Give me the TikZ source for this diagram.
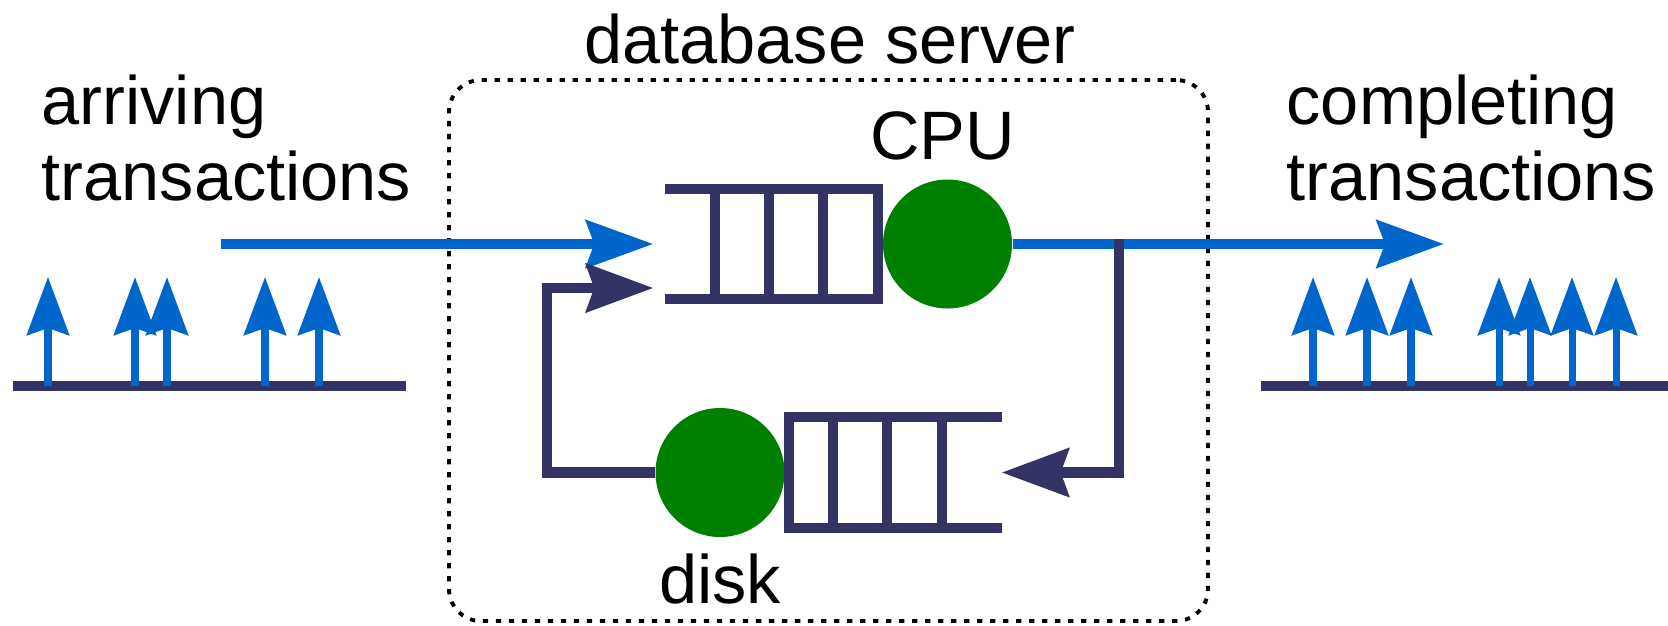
\documentclass[tikz,border=0pt]{standalone}
\usepackage{fontspec}
\setmainfont{Liberation Sans}
\usepackage{tikz}
\usetikzlibrary{arrows.meta}

\definecolor{jobBlue}{HTML}{0066CC}
\definecolor{lineNavy}{HTML}{333366}
\definecolor{serverGreen}{HTML}{008000}

\tikzset{
  station/.style={circle, fill=serverGreen, minimum size=1.29cm, inner sep=0},
  queueBox/.style={rectangle, minimum width=2.11cm, minimum height=1.09cm, inner sep=0},
  queueLine/.style={line width=2.9pt, lineNavy},
  serverBox/.style={draw, rounded corners=0.32cm, line width=1.1pt, dash pattern=on 1.5pt off 2.2pt, minimum width=7.59cm, minimum height=5.41cm, inner sep=0},
  jobFlow/.style={line width=3.1pt, jobBlue, -{Stealth[length=0.67cm, width=0.47cm, inset=0.08cm]}},
  loopFlow/.style={line width=2.9pt, lineNavy, -{Stealth[length=0.67cm, width=0.48cm, inset=0.08cm]}},
  timeAxis/.style={line width=3.1pt, lineNavy},
  jobTick/.style={line width=2pt, jobBlue, -{Stealth[length=0.58cm, width=0.42cm, inset=0.07cm]}}
}

\begin{document}
\begin{tikzpicture}[font=\fontsize{19.5}{21.5}\selectfont]
\useasboundingbox (0,0) rectangle (16.68,6.25);

                \node[serverBox](srv) at (8.285,2.745) {};
                \node[anchor=base](srvName) at (8.30,5.62) {database server};

                \node[queueBox](cpuQ) at (7.715,3.81) {};
                \node[station, label={[name=cpuName, xshift=-0.05cm, label distance=0.06cm]above:CPU}](cpu) at (9.475,3.81) {};
                \node[queueBox](diskQ) at (8.955,1.525) {};
                \node[station, label={[name=diskName, label distance=0.04cm]below:disk}](disk) at (7.20,1.525) {};

                \node[anchor=base west, align=left, inner sep=0](arrText) at (0.41,4.25) {arriving\\transactions};
                \node[anchor=base west, align=left, inner sep=0](doneText) at (12.86,4.25) {completing\\transactions};

                \coordinate (arrIn) at (2.21,3.81);
                \coordinate (depOut) at (14.44,3.81);
                \coordinate (loopTop) at (11.19,3.865);
                \coordinate (loopLeft) at (5.47,3.37);

                                \draw[queueLine] (cpuQ.north west) -- (cpuQ.north east) -- (cpuQ.south east) -- (cpuQ.south west);
                                \foreach \d in {0.50,1.04,1.58}
                                  \draw[queueLine] ([xshift=\d cm]cpuQ.north west) -- ([xshift=\d cm]cpuQ.south west);
                                \draw[queueLine] (diskQ.north east) -- (diskQ.north west) -- (diskQ.south west) -- (diskQ.south east);
                                \foreach \d in {0.44,0.98,1.53}
                                  \draw[queueLine] ([xshift=\d cm]diskQ.north west) -- ([xshift=\d cm]diskQ.south west);

                                \draw[jobFlow, shorten >=0.12cm] (arrIn) -- (cpuQ.west);
                                \draw[jobFlow] (cpu.east) -- (depOut);
                                \draw[loopFlow] (loopTop) |- (diskQ.east);
                                \draw[loopFlow, shorten >=0.12cm] (disk.west) -| (loopLeft) -- (loopLeft -| cpuQ.west);

                \coordinate (inStart) at (0.13,2.39);
                \coordinate (inEnd) at (4.06,2.39);
                \coordinate (outStart) at (12.61,2.39);
                \coordinate (outEnd) at (16.68,2.39);

                                \draw[timeAxis] (inStart) -- (inEnd);
                                \draw[timeAxis] (outStart) -- (outEnd);
                                \foreach \t in {0.48,1.35,1.67,2.65,3.19}
                                  \draw[jobTick] (\t,2.39) -- (\t,3.48);
                                \foreach \t in {13.13,13.67,14.11,14.99,15.30,15.72,16.16}
                                  \draw[jobTick] (\t,2.39) -- (\t,3.48);

\end{tikzpicture}
\end{document}
